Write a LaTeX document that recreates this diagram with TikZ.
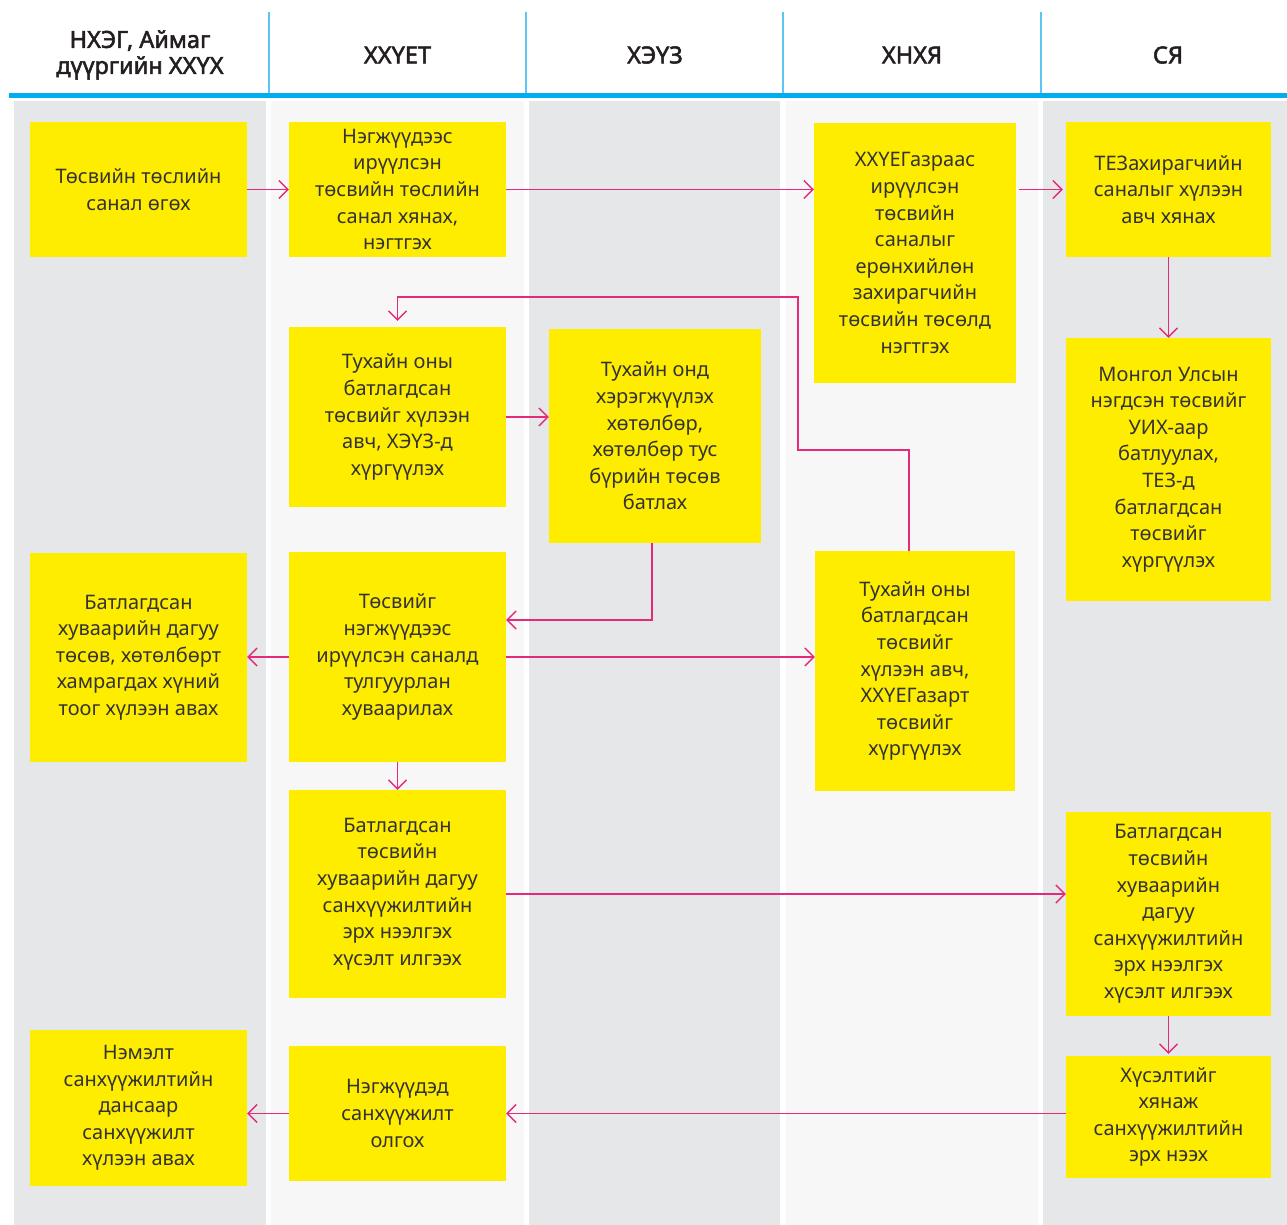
\documentclass[tikz,border=0pt]{standalone}
\usepackage{fontspec}
\setmainfont{Noto Sans}
\newfontfamily\headfont{Noto Sans}[FakeBold=2.2]
\usetikzlibrary{arrows.meta,calc}
\definecolor{laneA}{HTML}{E6E7E9}
\definecolor{laneB}{HTML}{F7F7F7}
\definecolor{boxy}{HTML}{FFED00}
\definecolor{hblue}{HTML}{00AEEF}
\definecolor{dblue}{HTML}{5CC6F2}
\definecolor{txt}{HTML}{333333}
\definecolor{htxt}{HTML}{231F20}
\definecolor{arrc}{HTML}{E42A7A}
\begin{document}
\begin{tikzpicture}[x=1pt,y=-1pt,
  box/.style={fill=boxy, align=center, inner sep=0pt, text=txt, font=\fontsize{20}{26.6}\selectfont},
  head/.style={align=center, text=htxt, font=\headfont\fontsize{23.5}{26}\selectfont},
  conn/.style={draw=arrc, line width=1.4pt, -{Straight Barb[length=9pt,width=18pt]}}]
\useasboundingbox (0,0) rectangle (1287,1225);
\fill[white] (0,0) rectangle (1287,1225);
% lanes
\fill[laneA] (14,101) rectangle (266,1225);
\fill[laneB] (271,101) rectangle (524,1225);
\fill[laneA] (529,101) rectangle (780,1225);
\fill[laneB] (786,101) rectangle (1038,1225);
\fill[laneA] (1043,101) rectangle (1287,1225);
% header
\foreach \x in {269,526,783,1041} \draw[dblue, line width=1.5pt] (\x,12) -- (\x,94);
\draw[hblue, line width=5pt] (9,96) -- (1287,96);
\node[head] (h1) at (140,55) {НХЭГ, Аймаг\\дүүргийн ХХҮХ};
\node[head] (h2) at (397.5,55) {ХХҮЕТ};
\node[head] (h3) at (655,55) {ХЭҮЗ};
\node[head] (h4) at (912,55) {ХНХЯ};
\node[head] (h5) at (1168,55) {СЯ};
% boxes
\node[box, minimum width=217, minimum height=135] (a1) at (138.5,189.5) {Төсвийн төслийн\\санал өгөх};
\node[box, minimum width=217, minimum height=135] (b1) at (397.5,189.5) {Нэгжүүдээс\\ирүүлсэн\\төсвийн төслийн\\санал хянах,\\нэгтгэх};
\node[box, minimum width=202, minimum height=260] (d1) at (915,253) {ХХҮЕГазраас\\ирүүлсэн\\төсвийн\\саналыг\\ерөнхийлөн\\захирагчийн\\төсвийн төсөлд\\нэгтгэх};
\node[box, minimum width=205, minimum height=135] (e1) at (1168.5,189.5) {ТЕЗахирагчийн\\саналыг хүлээн\\авч хянах};
\node[box, minimum width=205, minimum height=263] (e2) at (1168.5,469.5) {Монгол Улсын\\нэгдсэн төсвийг\\УИХ-аар\\батлуулах,\\ТЕЗ-д\\батлагдсан\\төсвийг\\хүргүүлэх};
\node[box, minimum width=217, minimum height=180] (b2) at (397.5,417) {Тухайн оны\\батлагдсан\\төсвийг хүлээн\\авч, ХЭҮЗ-д\\хүргүүлэх};
\node[box, minimum width=212, minimum height=214] (c2) at (655,436) {Тухайн онд\\хэрэгжүүлэх\\хөтөлбөр,\\хөтөлбөр тус\\бүрийн төсөв\\батлах};
\node[box, minimum width=217, minimum height=209] (a3) at (138.5,657.5) {Батлагдсан\\хуваарийн дагуу\\төсөв, хөтөлбөрт\\хамрагдах хүний\\тоог хүлээн авах};
\node[box, minimum width=217, minimum height=210] (b3) at (397.5,657) {Төсвийг\\нэгжүүдээс\\ирүүлсэн саналд\\тулгуурлан\\хуваарилах};
\node[box, minimum width=200, minimum height=240] (d3) at (915,671) {Тухайн оны\\батлагдсан\\төсвийг\\хүлээн авч,\\ХХҮЕГазарт\\төсвийг\\хүргүүлэх};
\node[box, minimum width=217, minimum height=208] (b4) at (397.5,894) {Батлагдсан\\төсвийн\\хуваарийн дагуу\\санхүүжилтийн\\эрх нээлгэх\\хүсэлт илгээх};
\node[box, minimum width=205, minimum height=204] (e4) at (1168.5,914) {Батлагдсан\\төсвийн\\хуваарийн\\дагуу\\санхүүжилтийн\\эрх нээлгэх\\хүсэлт илгээх};
\node[box, minimum width=217, minimum height=156] (a5) at (138.5,1108) {Нэмэлт\\санхүүжилтийн\\дансаар\\санхүүжилт\\хүлээн авах};
\node[box, minimum width=217, minimum height=135] (b5) at (397.5,1113.5) {Нэгжүүдэд\\санхүүжилт\\олгох};
\node[box, minimum width=205, minimum height=122] (e5) at (1168.5,1117) {Хүсэлтийг\\хянаж\\санхүүжилтийн\\эрх нээх};
% connectors
\coordinate (k1) at (798,450);
\coordinate (k2) at (798,297);
\draw[conn] (a1.east) -- (b1.west);
\draw[conn] (b1.east) -- (b1.east -| d1.west);
\draw[conn, shorten >=3pt] ([xshift=3pt]e1.west -| d1.east) -- (e1.west);
\draw[conn] (e1.south) -- (e2.north);
\draw[conn, shorten >=6pt] ([xshift=-6pt]d3.north) |- (k1) -- (k2) -| (b2.north);
\draw[conn] (b2.east) -- (b2.east -| c2.west);
\draw[conn] ([xshift=-3pt]c2.south) |- ($(b3.east)+(0,-37)$);
\draw[conn] (b3.west) -- (b3.west -| a3.east);
\draw[conn] (b3.east) -- (b3.east -| d3.west);
\draw[conn] (b3.south) -- (b4.north);
\draw[conn] (b4.east) -- (b4.east -| e4.west);
\draw[conn, shorten >=2pt] (e4.south) -- (e5.north);
\draw[conn] (b5.east -| e5.west) -- (b5.east);
\draw[conn] (b5.west) -- (b5.west -| a5.east);
\end{tikzpicture}
\end{document}
